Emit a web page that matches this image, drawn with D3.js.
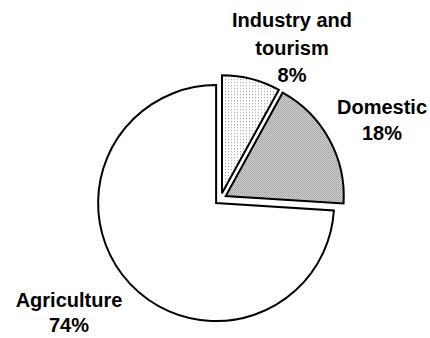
<!DOCTYPE html>
<html>
<head>
<meta charset="utf-8">
<script src="https://cdn.jsdelivr.net/npm/d3@7/dist/d3.min.js"></script>
<style>
  html, body { margin: 0; padding: 0; background: #fff; }
  svg { display: block; }
  text { font-family: "Liberation Sans", Arial, sans-serif; font-weight: bold; font-size: 20px; fill: #000; }
</style>
</head>
<body>
<svg id="chart" width="430" height="338"></svg>
<script>
// Water use by sector (percent of total)
const sectors = ["Industry and tourism", "Domestic", "Agriculture"];
const shares = [8, 18, 74];
const labelLines = [["Industry and", "tourism", "8%"], ["Domestic", "18%"], ["Agriculture", "74%"]];

// Layout
const cx = 220.5, cy = 199, radius = 118, explode = 6;
const labelAnchors = [[292, 27], [382, 114], [69, 307]];
const lineHeights = [27.5, 26, 25];

const svg = d3.select("#chart");
const defs = svg.append("defs");

// Sparse stipple for industry
const p1 = defs.append("pattern").attr("id", "dotsLight")
  .attr("width", 3).attr("height", 3).attr("patternUnits", "userSpaceOnUse");
p1.append("rect").attr("width", 3).attr("height", 3).attr("fill", "#fff");
p1.append("rect").attr("width", 1).attr("height", 1).attr("fill", "#9a9a9a");

// Dense stipple for domestic
const p2 = defs.append("pattern").attr("id", "dotsDense")
  .attr("width", 2).attr("height", 2).attr("patternUnits", "userSpaceOnUse");
p2.append("rect").attr("width", 2).attr("height", 2).attr("fill", "#e2e2e2");
p2.append("rect").attr("width", 1).attr("height", 1).attr("fill", "#868686");
p2.append("rect").attr("x", 1).attr("y", 1).attr("width", 1).attr("height", 1).attr("fill", "#a4a4a4");

const fills = d3.scaleOrdinal().domain(sectors)
  .range(["url(#dotsLight)", "url(#dotsDense)", "#fff"]);

const pie = d3.pie().sort(null).value(d => d.v);
const arcs = pie(sectors.map((s, i) => ({ s, v: shares[i] })));
const arc = d3.arc().innerRadius(0).outerRadius(radius);

const g = svg.append("g").attr("transform", `translate(${cx},${cy})`);

g.selectAll("path.slice").data(arcs).join("path")
  .attr("class", "slice")
  .attr("transform", d => {
    const a = (d.startAngle + d.endAngle) / 2;
    return `translate(${explode * Math.sin(a)},${-explode * Math.cos(a)})`;
  })
  .attr("d", arc)
  .attr("fill", d => fills(d.data.s))
  .attr("stroke", "#000")
  .attr("stroke-width", 2)
  .attr("stroke-linejoin", "miter");

// Category labels with percentages
labelLines.forEach((lines, i) => {
  const t = svg.append("text")
    .attr("text-anchor", "middle")
    .attr("x", labelAnchors[i][0])
    .attr("y", labelAnchors[i][1]);
  lines.forEach((ln, j) => {
    t.append("tspan")
      .attr("x", labelAnchors[i][0])
      .attr("dy", j === 0 ? 0 : lineHeights[i])
      .text(ln);
  });
});
</script>
</body>
</html>
